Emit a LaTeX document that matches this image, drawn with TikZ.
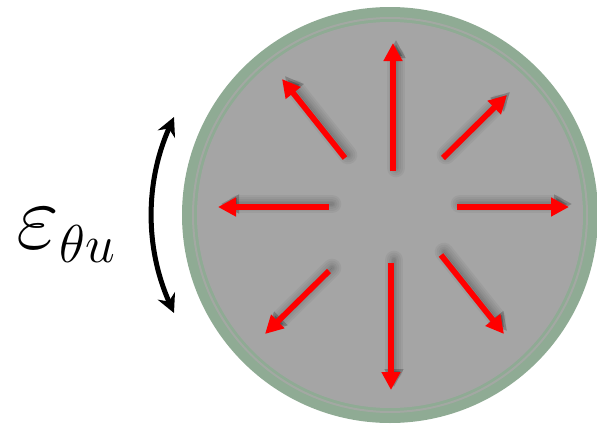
\RequirePackage{fix-cm}
\documentclass[tikz,border=0pt]{standalone}
\usetikzlibrary{arrows.meta}
\DeclareMathSizes{70}{70}{40}{30}
\definecolor{rimgreen}{HTML}{8FAB94}
\definecolor{rimline}{HTML}{A3A8A3}
\definecolor{diskgray}{HTML}{A5A5A5}
\tikzset{every picture/.style={line width=0.75pt},
  redarrow/.style={draw=red, fill=red, line width=4.3pt, -{Triangle[length=13.5pt,width=13.5pt]}},
  arrowshade/.style={draw=black, fill=black, line width=#1, opacity=0.045, line cap=round, -{Triangle[length=13.5pt,width=13.5pt]}},
  strainarrow/.style={line width=3.75pt, {Stealth[length=14pt,width=14pt]}-{Stealth[length=14pt,width=14pt]}}}

\begin{document}
\begin{tikzpicture}[x=0.75pt,y=0.75pt,yscale=-1,xscale=1]
        \useasboundingbox (0,0) rectangle (597,425);
        % disk with rim
        \fill [rimgreen] (390,215) circle (208);
        \draw [rimline, line width=1.5pt] (390,215) circle (197);
        \fill [diskgray] (390,215) circle (193);

        % radial arrows
        \foreach \xa/\ya/\xb/\yb in {393/171/393/43, 345/158/282/79, 443/158/507/95,
                329/207/218/207, 457/207/569/207, 329/271/265/334, 391/263/391/390, 441/255/504/334} {
            \foreach \w in {14pt,11pt,8pt,5pt,3pt}
                \draw [arrowshade=\w, shift={(3,-3)}] (\xa,\ya) -- (\xb,\yb);
            \draw [redarrow] (\xa,\ya) -- (\xb,\yb);
        }

        % strain arrow and label
        \coordinate (strain top) at (174,117);
        \coordinate (strain bottom) at (174,313);
        \draw [strainarrow] (strain top) .. controls (145,182) and (145,248) .. (strain bottom);
        \node (eps) [anchor=base west, inner sep=0pt] at (16,248) {\fontsize{70}{84}\selectfont$\varepsilon_{\theta u}$};
\end{tikzpicture}
\end{document}
